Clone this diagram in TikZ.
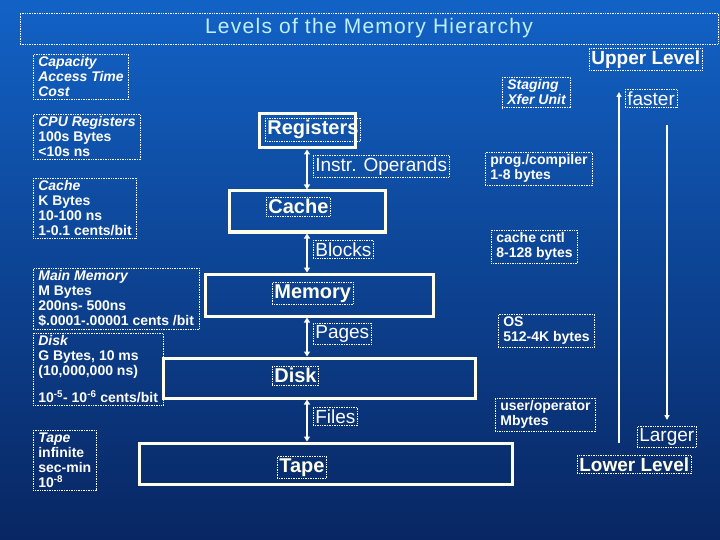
\documentclass[tikz,border=0pt]{standalone}
\usepackage{fontspec}
\setmainfont{Liberation Sans}
\usetikzlibrary{arrows.meta}
\definecolor{bgtop}{RGB}{18,98,198}
\definecolor{bgbot}{RGB}{8,38,98}
\definecolor{ttl}{RGB}{190,240,255}
\definecolor{crm}{RGB}{255,255,236}
\begin{document}
\begin{tikzpicture}[x=1pt, y=-1pt,
    T/.style={draw=white, densely dotted, line width=.7pt,
        text=white, inner sep=2.5pt, align=left, anchor=north west},
    info/.style={T, inner xsep=5pt, font=\fontsize{14}{15}\selectfont\bfseries},
    lvl/.style={draw=crm, line width=3pt},
    tag/.style={T, text=crm, inner sep=2pt,
        font=\fontsize{20}{22}\selectfont\bfseries},
    via/.style={T, inner sep=2pt, font=\fontsize{19}{21}\selectfont},
    arr/.style={white, line width=2pt, {Triangle[length=5pt,width=6pt]}-{Triangle[length=5pt,width=6pt]}}]
    \useasboundingbox (0,0) rectangle (720,540);
    \fill[top color=bgtop, bottom color=bgbot] (0,0) rectangle (720,540);

    \node[T, anchor=center, minimum width=698pt, minimum height=31pt,
        text=ttl, font=\fontsize{21}{24}\selectfont\addfontfeature{LetterSpace=6}] (title) at (369,28.5)
        {Levels of the Memory Hierarchy};

    \node[info] (cap) at (33,54)
        {\itshape Capacity\\\itshape Access Time\\\itshape Cost};
    \node[info] (cpu) at (33,114)
        {\itshape CPU Registers\\100s Bytes\\<10s ns};
    \node[info] (cch) at (33,178)
        {\itshape Cache\\K Bytes\\10-100 ns\\1-0.1 cents/bit};
    \node[info] (mm) at (33,268)
        {\itshape Main Memory\\M Bytes\\200ns- 500ns\\\$.0001-.00001 cents /bit};
    \node[info] (dsk) at (33,333)
        {\itshape Disk\\G Bytes, 10 ms\\(10,000,000 ns)\\[12pt]
        10\textsuperscript{-5}- 10\textsuperscript{-6} cents/bit};
    \node[info] (tp) at (33,430)
        {\itshape Tape\\infinite\\sec-min\\10\textsuperscript{-8}};

    \node[lvl, minimum width=96pt, minimum height=34pt] (reg) at (307,131) {};
    \node[lvl, minimum width=156pt, minimum height=41pt] (cache) at (307,211.5) {};
    \node[lvl, minimum width=228pt, minimum height=42pt] (mem) at (319,295) {};
    \node[lvl, minimum width=312pt, minimum height=40pt] (disk) at (319,378) {};
    \node[lvl, minimum width=373pt, minimum height=41pt] (tape) at (325.5,463.5) {};

    \node[tag] (regT) at (265,118) {Registers};
    \node[tag] (cacheT) at (266,197) {Cache};
    \node[tag] (memT) at (272,282) {Memory};
    \node[tag] (diskT) at (272,366) {Disk};
    \node[tag] (tapeT) at (277,456) {Tape};

    \coordinate (ax) at (307,0);
    \draw[arr] (ax |- reg.south) -- (ax |- cache.north);
    \draw[arr] (ax |- cache.south) -- (ax |- mem.north);
    \draw[arr] (ax |- mem.south) -- (ax |- disk.north);
    \draw[arr] (ax |- disk.south) -- (ax |- tape.north);

    \node[via] (ops) at (313,155) {Instr. Operands};
    \node[via] (blk) at (313,240) {Blocks};
    \node[via] (pgs) at (313,323) {Pages};
    \node[via] (fls) at (313,407) {Files};

    \node[info] (stg) at (502,77) {\itshape Staging\\\itshape Xfer Unit};
    \node[info] (prog) at (485,152) {prog./compiler\\1-8 bytes};
    \node[info] (cc) at (491,230) {cache cntl\\8-128 bytes};
    \node[info] (os) at (498,314) {OS\\512-4K bytes};
    \node[info] (usr) at (495,398) {user/operator\\Mbytes};

    \node[tag, text=white, font=\fontsize{19}{21}\selectfont\bfseries] (up) at (589,48) {Upper Level};
    \node[via] (fast) at (625,89) {faster};
    \node[via] (big) at (637,426) {Larger};
    \node[tag, font=\fontsize{19}{21}\selectfont\bfseries] (low) at (577,455) {Lower Level};

    \coordinate (upB) at (619,443);
    \coordinate (upA) at (619,92);
    \coordinate (dnA) at (667,125);
    \coordinate (dnB) at (667,420);
    \draw[white, line width=1.5pt, -{Triangle[length=5pt,width=5pt]}]
        (upB) -- (upA);
    \draw[white, line width=1.5pt, -{Triangle[length=5pt,width=5pt]}]
        (dnA) -- (dnB);
\end{tikzpicture}
\end{document}
